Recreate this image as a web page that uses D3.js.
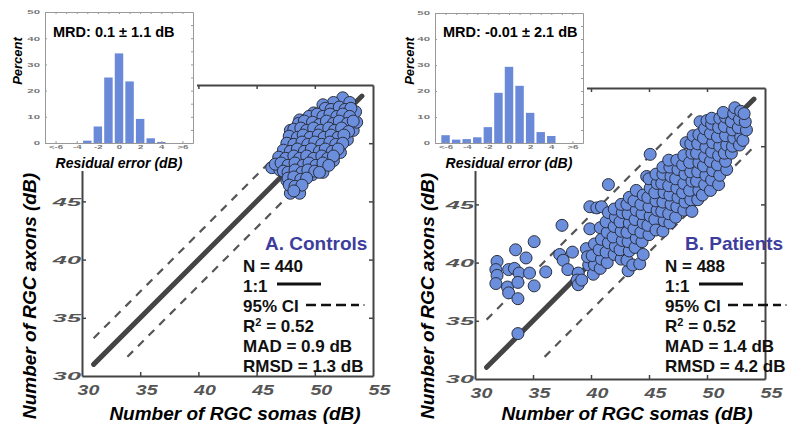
<!DOCTYPE html>
<html>
<head>
<meta charset="utf-8">
<script src="https://cdn.jsdelivr.net/npm/d3@7"></script>
<style>
  body { margin: 0; background: #fff; }
  svg { display: block; font-family: "Liberation Sans", Arial, sans-serif; }
</style>
</head>
<body>
<svg id="chart" width="800" height="433"></svg>
<script>
// ---- data ----
const histBins = [-6, -5, -4, -3, -2, -1, 0, 1, 2, 3, 4, 5, 6];
const histTickVals = [-6, -4, -2, 0, 2, 4, 6];
const histTickLabels = ["<-6", "-4", "-2", "0", "2", "4", ">6"];
const pctTicks = [0, 10, 20, 30, 40, 50];
const controlsPct = [0, 0, 0, 0.9, 6.3, 25, 34.2, 23.5, 9.2, 1.8, 0.4, 0, 0];
const patientsPct = [3.0, 1.3, 1.5, 2.2, 6.1, 19.3, 29.3, 22, 11.6, 4.2, 2.7, 0, 0];

const dbTicks = [30, 35, 40, 45, 50, 55];
const unityRange = [31, 54.05];

const controlsCI = 2.25;
const controlsUpperRange = [31, 51.5];
const controlsLowerRange = [33.9, 54];
const patientsCI = 4.1;
const patientsUpperRange = [31, 48.7];
const patientsLowerRange = [36, 54];

const controlsPts = [
  [52.4,53.9],[51.6,53.5],[50.7,53.3],[49.9,52.6],[48.7,52.0],[47.9,51.1],[47.7,50.1],[47.2,49.0],
  [46.3,47.9],[47.0,47.7],[47.6,46.8],[47.9,45.7],[48.7,45.7],[48.7,46.6],[49.8,47.3],[50.7,47.5],
  [51.0,48.3],[51.6,48.5],[52.2,49.2],[52.8,50.3],[53.3,51.1],[53.6,51.8],[53.5,52.7],[53.0,53.5],
  [50.9,53.0],[51.4,52.9],[52.1,53.1],[52.6,52.9],[53.1,53.0],
  [49.5,52.3],[50.2,52.5],[50.7,52.3],[51.3,52.5],[51.9,52.3],[52.4,52.5],[53.0,52.3],
  [48.6,51.7],[49.1,51.9],[49.8,51.8],[50.4,51.6],[51.0,51.9],[51.6,51.7],[52.1,51.9],[52.8,51.7],[53.3,51.9],
  [48.2,51.2],[48.8,51.3],[49.3,51.1],[49.9,51.3],[50.5,51.1],[51.2,51.3],[51.7,51.1],[52.3,51.3],[52.9,51.0],
  [47.8,50.6],[48.5,50.5],[49.0,50.7],[49.6,50.5],[50.3,50.7],[50.8,50.5],[51.4,50.7],[52.0,50.5],[52.5,50.7],
  [47.6,50.0],[48.2,49.9],[48.9,50.1],[49.4,49.9],[50.0,50.1],[50.6,49.9],[51.3,50.1],[51.8,49.9],[52.4,50.0],
  [47.3,49.4],[47.9,49.3],[48.5,49.5],[49.1,49.3],[49.7,49.5],[50.4,49.3],[50.9,49.5],[51.5,49.3],[52.0,49.5],
  [46.9,48.8],[47.5,48.7],[48.2,48.9],[48.7,48.7],[49.3,48.9],[49.9,48.7],[50.6,48.9],[51.1,48.7],[51.6,48.9],
  [46.6,48.2],[47.1,48.3],[47.7,48.1],[48.3,48.3],[49.0,48.1],[49.5,48.3],[50.1,48.1],[50.7,48.3],[51.2,48.1],
  [47.3,47.6],[47.7,47.5],[48.3,47.7],[48.9,47.5],[49.4,47.7],[50.0,47.6],[50.4,47.5],
  [47.7,47.0],[48.2,47.1],[48.8,46.9],[49.3,47.0],
  [47.8,46.4],[48.3,46.3],[48.9,46.4],[48.2,45.9]
];

const patientsPts = [
  [31.9,40.1],[31.8,39.4],[31.9,38.9],[31.8,38.2],[32.9,39.4],[32.8,37.9],[32.9,37.4],[33.5,41.1],
  [33.4,39.5],[33.8,39.1],[33.7,38.3],[33.7,36.9],[34.4,40.4],[34.7,39.1],[35.1,38.0],[35.1,41.8],
  [36.1,39.2],[33.7,33.9],
  [37.5,43.2],[37.3,40.7],[37.6,40.2],[38.0,39.4],[38.4,40.9],[38.9,39.1],[38.8,38.5],[38.9,38.1],
  [39.6,41.2],[39.9,44.8],[39.9,42.9],[39.8,39.8],[39.7,40.5],[40.5,44.7],[39.2,38.5],[40.5,41.4],
  [41.5,46.7],[40.9,44.8],[45.1,49.3],
  [40.2,39.0],[40.3,39.8],[40.1,40.6],[40.3,41.6],
  [40.8,39.5],[40.9,40.3],[40.7,41.1],[40.9,42.0],[40.8,43.0],
  [41.4,40.0],[41.3,40.9],[41.5,41.7],[41.4,42.6],[41.3,43.5],[41.5,44.3],
  [42.0,40.7],[42.1,41.4],[41.9,42.2],[42.0,43.1],[42.1,43.9],[42.0,44.6],
  [42.6,40.3],[42.5,41.1],[42.7,41.9],[42.6,42.7],[42.5,43.5],[42.7,44.3],[42.6,45.0],
  [43.2,39.3],[43.1,40.2],[43.3,41.0],[43.2,41.8],[43.1,42.6],[43.3,43.4],[43.2,44.2],[43.1,45.0],[43.3,45.6],
  [43.6,39.8],[43.8,41.3],[43.9,42.1],[43.7,42.9],[43.8,43.7],[43.9,44.5],[43.7,45.3],[43.9,46.2],
  [44.2,39.9],[44.5,40.7],[44.4,41.8],[44.3,42.6],[44.5,43.4],[44.4,44.2],[44.3,45.0],[44.5,45.8],[44.8,47.4],
  [45.0,42.4],[44.9,43.2],[45.1,44.0],[45.0,44.8],[44.9,45.6],[45.1,46.4],[45.0,47.2],
  [45.5,43.7],[45.6,42.8],[45.7,44.5],[45.6,45.3],[45.5,46.0],[45.7,46.8],[45.6,47.6],
  [46.2,42.7],[46.3,43.6],[46.1,44.4],[46.2,45.2],[46.3,46.0],[46.1,46.8],[46.2,47.6],[46.2,48.2],
  [46.8,43.4],[46.7,44.2],[46.9,45.0],[46.8,45.8],[46.7,46.6],[46.9,47.4],[46.8,48.2],[46.7,48.8],
  [47.3,43.9],[47.4,44.8],[47.5,45.6],[47.4,46.4],[47.3,47.2],[47.5,48.0],[47.4,48.8],
  [48.0,44.5],[48.1,45.2],[47.9,46.0],[48.0,46.8],[48.1,47.6],[47.9,48.4],[48.0,49.2],[48.2,50.3],
  [48.7,44.4],[48.6,45.4],[48.5,46.2],[48.7,47.0],[48.6,47.8],[48.5,48.6],[48.7,49.4],[48.6,50.2],[48.8,50.9],
  [49.2,45.4],[49.3,46.2],[49.1,47.0],[49.2,47.8],[49.3,48.6],[49.1,49.4],[49.2,50.2],[49.3,51.0],[49.4,52.1],
  [49.6,45.8],[49.8,46.7],[49.9,47.5],[49.7,48.3],[49.8,49.1],[49.9,49.9],[49.7,50.7],[49.8,51.5],[50.0,52.2],
  [50.3,46.2],[50.4,47.1],[50.5,47.9],[50.3,48.7],[50.4,49.5],[50.5,50.3],[50.3,51.1],[50.4,51.9],[50.4,52.4],
  [51.0,46.7],[51.1,47.5],[50.9,48.4],[51.0,49.2],[51.1,50.0],[50.9,50.8],[51.0,51.6],[51.1,52.4],
  [51.7,48.0],[51.6,48.7],[51.5,49.4],[51.7,50.1],[51.6,50.9],[51.5,51.7],[51.6,52.5],[51.4,52.9],
  [52.1,49.4],[52.2,50.0],[52.3,50.7],[52.2,51.4],[52.1,52.1],[52.3,52.8],[52.4,53.3],
  [52.8,50.1],[52.9,50.8],[52.7,51.6],[52.8,52.3],[52.9,53.0],
  [53.1,50.5],[53.4,51.4],[53.3,52.1],[53.2,52.8]
];

const controlsTitle = "A. Controls";
const patientsTitle = "B. Patients";
const controlsStats = ["N = 440", "1:1", "95% CI", "0.52", "MAD = 0.9 dB", "RMSD = 1.3 dB"];
const patientsStats = ["N = 488", "1:1", "95% CI", "0.52", "MAD = 1.4 dB", "RMSD = 4.2 dB"];
const controlsMRD = "MRD: 0.1 \u00B1 1.1 dB";
const patientsMRD = "MRD: -0.01 \u00B1 2.1 dB";

// ---- drawing ----
const svg = d3.select("#chart");
const DOT = "#6b8edd";
const AXIS = "#444";

function drawScatter(p) {
  const x = d3.scaleLinear().domain([30, 55]).range([p.left, p.right]);
  const y = d3.scaleLinear().domain([30, 55]).range([p.bottom, p.top]);
  const g = svg.append("g");
  const line = d3.line().x(d => x(d)).y(d => y(d));
  const lineOff = off => d3.line().x(d => x(d)).y(d => y(d + off));

  // 95% CI and 1:1 lines
  g.append("path").attr("d", lineOff(p.ci)(p.upper))
    .attr("fill", "none").attr("stroke", "#555").attr("stroke-width", 2.2)
    .attr("stroke-dasharray", "8,7");
  g.append("path").attr("d", lineOff(-p.ci)(p.lower))
    .attr("fill", "none").attr("stroke", "#555").attr("stroke-width", 2.2)
    .attr("stroke-dasharray", "8,7");
  g.append("path").attr("d", line(unityRange))
    .attr("fill", "none").attr("stroke", "#444").attr("stroke-width", 5)
    .attr("stroke-linecap", "round");

  g.append("g").selectAll("circle").data(p.pts).join("circle")
    .attr("cx", d => x(d[0])).attr("cy", d => y(d[1])).attr("r", 6)
    .attr("fill", DOT).attr("stroke", "#2b2f3d").attr("stroke-width", 1);

  // frame: top and right borders with inward ticks
  const top = g.append("g").attr("transform", `translate(0,${p.top})`)
    .call(d3.axisTop(x).tickValues([35, 40, 45, 50]).tickSizeInner(-4).tickSizeOuter(0).tickFormat(""));
  const right = g.append("g").attr("transform", `translate(${p.right},0)`)
    .call(d3.axisRight(y).tickValues([35, 40, 45, 50]).tickSizeInner(-4).tickSizeOuter(0).tickFormat(""));

  const xAxis = g.append("g").attr("transform", `translate(0,${p.bottom})`)
    .call(d3.axisBottom(x).tickValues(dbTicks).tickSizeInner(-4).tickSizeOuter(0).tickPadding(9));
  const yAxis = g.append("g").attr("transform", `translate(${p.left},0)`)
    .call(d3.axisLeft(y).tickValues(dbTicks).tickSizeInner(-4).tickSizeOuter(0).tickPadding(0));

  [top, right, xAxis, yAxis].forEach(a => {
    a.select(".domain").attr("stroke", AXIS).attr("stroke-width", 2);
    a.selectAll(".tick line").attr("stroke", AXIS).attr("stroke-width", 1.5);
  });
  xAxis.selectAll(".tick line").filter(d => d === 30 || d === 55).remove();
  yAxis.selectAll(".tick line").filter(d => d === 30 || d === 55).remove();

  xAxis.selectAll("text")
    .attr("fill", "#555").attr("font-size", 14).attr("font-weight", "bold").attr("font-style", "italic")
    .attr("font-family", "Liberation Sans, Arial, sans-serif")
    .attr("transform", "translate(6,0) scale(1.4,1)");
  yAxis.selectAll("text")
    .attr("fill", "#555").attr("font-size", 11.5).attr("font-weight", "bold").attr("font-style", "italic")
    .attr("font-family", "Liberation Sans, Arial, sans-serif")
    .attr("transform", "translate(-1,0) scale(2.2,1)");

  // axis titles
  g.append("text").attr("x", p.xTitleX).attr("y", 420).attr("text-anchor", "middle")
    .attr("font-size", 19).attr("font-weight", "bold").attr("font-style", "italic")
    .text("Number of RGC somas (dB)");
  g.append("text").attr("transform", `translate(${p.yTitleX},296) rotate(-90)`).attr("text-anchor", "middle")
    .attr("font-size", 19).attr("font-weight", "bold").attr("font-style", "italic")
    .text("Number of RGC axons (dB)");

  // panel title and stats
  g.append("text").attr("x", p.titleX).attr("y", 250).attr("font-size", 19).attr("font-weight", "bold")
    .attr("fill", "#3d3d9e").text(p.title);
  const sx = p.statsX;
  p.stats.forEach((s, i) => {
    const t = g.append("text").attr("x", sx).attr("y", 272 + i * 20)
      .attr("font-size", 17).attr("font-weight", "bold").attr("fill", "#111");
    if (i === 3) {
      t.append("tspan").text("R");
      t.append("tspan").attr("font-size", 11).attr("dy", -6).text("2");
      t.append("tspan").attr("dy", 6).text(" = " + s);
    } else {
      t.text(s);
    }
  });
  g.append("line").attr("x1", sx + 34).attr("x2", sx + 78).attr("y1", 284).attr("y2", 284)
    .attr("stroke", "#111").attr("stroke-width", 3);
  g.append("line").attr("x1", sx + 63).attr("x2", sx + 116).attr("y1", 305).attr("y2", 305)
    .attr("stroke", "#111").attr("stroke-width", 2.5).attr("stroke-dasharray", "10,5");
  g.append("line").attr("x1", sx + 120).attr("x2", sx + 122).attr("y1", 305).attr("y2", 305)
    .attr("stroke", "#999").attr("stroke-width", 2);
}

function drawInset(p) {
  const g = svg.append("g");
  g.append("rect").attr("x", p.maskX).attr("y", 0).attr("width", p.maskW).attr("height", 171)
    .attr("fill", "#fff");
  const hx = d3.scaleLinear().domain([-7, 7]).range([p.l, p.r]);
  const hy = d3.scaleLinear().domain([0, 50]).range([p.b, p.t]);

  g.append("g").selectAll("rect").data(histBins.map((b, i) => [b, p.pct[i]]).filter(d => d[1] > 0))
    .join("rect")
    .attr("x", d => hx(d[0] - 0.4)).attr("width", hx(0.8) - hx(0))
    .attr("y", d => hy(d[1])).attr("height", d => hy(0) - hy(d[1]))
    .attr("fill", "#6a8ad9");

  const ax = (sel) => {
    sel.select(".domain").attr("stroke", "#999").attr("stroke-width", 1);
    sel.selectAll(".tick line").attr("stroke", "#999");
  };
  const minorX = d3.range(-6, 7);
  const minorY = d3.range(0, 51, 5);
  g.append("g").attr("transform", `translate(0,${p.t})`)
    .call(d3.axisTop(hx).tickValues(minorX).tickSizeInner(-2).tickSizeOuter(0).tickFormat("")).call(ax);
  g.append("g").attr("transform", `translate(${p.r},0)`)
    .call(d3.axisRight(hy).tickValues(minorY).tickSizeInner(-2).tickSizeOuter(0).tickFormat("")).call(ax);
  const bx = g.append("g").attr("transform", `translate(0,${p.b})`)
    .call(d3.axisBottom(hx).tickValues(histTickVals).tickSizeInner(-2).tickSizeOuter(0).tickPadding(2)
      .tickFormat((d, i) => histTickLabels[i])).call(ax);
  const ly = g.append("g").attr("transform", `translate(${p.l},0)`)
    .call(d3.axisLeft(hy).tickValues(pctTicks).tickSizeInner(-2).tickSizeOuter(0).tickPadding(0)).call(ax);
  bx.selectAll("text").attr("fill", "#777").attr("font-size", 6).attr("font-weight", "bold")
    .attr("font-family", "Liberation Sans, Arial, sans-serif").attr("transform", "scale(1.6,1)");
  ly.selectAll("text").attr("fill", "#777").attr("font-size", 6).attr("font-weight", "bold")
    .attr("font-family", "Liberation Sans, Arial, sans-serif").attr("transform", "translate(-5,0) scale(1.9,1)");

  g.append("text").attr("x", p.l + 8).attr("y", 37).attr("font-size", 14.5).attr("font-weight", "bold")
    .text(p.mrd);
  g.append("text").attr("x", (p.l + p.r) / 2).attr("y", 168).attr("text-anchor", "middle")
    .attr("font-size", 14).attr("font-weight", "bold").attr("font-style", "italic")
    .text("Residual error (dB)");
  g.append("text").attr("transform", `translate(${p.percentX},61) rotate(-90)`).attr("text-anchor", "middle")
    .attr("font-size", 13).attr("font-weight", "bold").attr("font-style", "italic")
    .text("Percent");
}

drawScatter({ left: 82, right: 373, top: 85, bottom: 376, pts: controlsPts,
  ci: controlsCI, upper: controlsUpperRange, lower: controlsLowerRange,
  title: controlsTitle, titleX: 265, stats: controlsStats, statsX: 243, xTitleX: 235, yTitleX: 36 });
drawScatter({ left: 475, right: 765, top: 88, bottom: 379, pts: patientsPts,
  ci: patientsCI, upper: patientsUpperRange, lower: patientsLowerRange,
  title: patientsTitle, titleX: 685, stats: patientsStats, statsX: 665, xTitleX: 627, yTitleX: 434 });

drawInset({ l: 45, r: 193, t: 12, b: 143, pct: controlsPct, mrd: controlsMRD, maskX: 0, maskW: 197, percentX: 22 });
drawInset({ l: 435, r: 583, t: 13, b: 143, pct: patientsPct, mrd: patientsMRD, maskX: 392, maskW: 195, percentX: 414 });
</script>
</body>
</html>
